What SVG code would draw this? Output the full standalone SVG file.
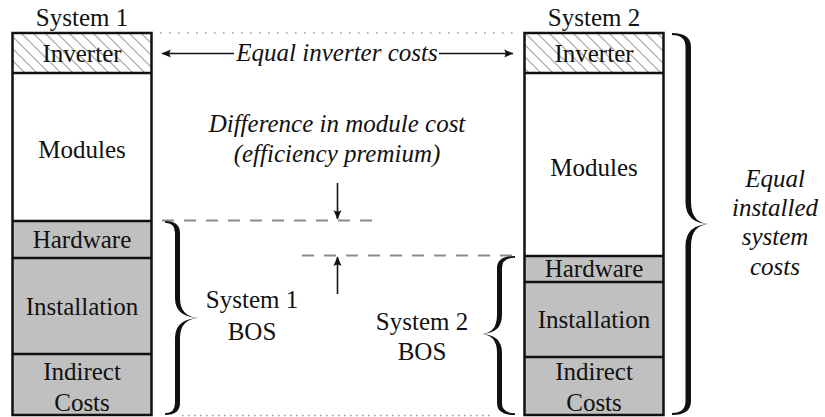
<svg xmlns="http://www.w3.org/2000/svg" width="825" height="417" viewBox="0 0 825 417">
<style>
.t{font-size:25px;text-anchor:middle;fill:#111}
.i{font-style:italic}
.box{stroke:#111;stroke-width:2.5;fill:none}
.div{stroke:#111;stroke-width:2.5}
.gray{fill:#c0c0c0}
.dash{stroke:#8c8c8c;stroke-width:2;stroke-dasharray:12 10;fill:none}
.arr{stroke:#111;stroke-width:1.6;fill:none;marker-end:url(#ah)}
.brace{fill:#111}
</style>
<defs>
<pattern id="hatch" patternUnits="userSpaceOnUse" width="12" height="12">
<path d="M-3,-3 L15,15 M-3,9 L3,15 M9,-3 L15,3" stroke="#b0b0b0" stroke-width="1.3"/>
</pattern>
<marker id="ah" viewBox="-10 -5 11 10" refX="0" refY="0" markerWidth="11" markerHeight="10" markerUnits="userSpaceOnUse" orient="auto">
<path d="M0.5,0 L-9,-4 Q-6,0 -9,4 Z" fill="#111"/>
</marker>
</defs>
<rect width="825" height="417" fill="#fff"/>

<g font-family="'Liberation Serif', 'Times New Roman', serif">
<g id="connectors">
<line x1="160" y1="33" x2="516" y2="33" stroke="#999" stroke-width="1.5" stroke-dasharray="1.5 7.5"/>
<line x1="182" y1="415.5" x2="492" y2="415.5" stroke="#999" stroke-width="1.5" stroke-dasharray="1.5 4.5"/>
<line class="arr" x1="234" y1="53.5" x2="162" y2="53.5"/>
<line class="arr" x1="439" y1="53.5" x2="513" y2="53.5"/>
<line class="dash" x1="162" y1="220.5" x2="372" y2="220.5"/>
<line class="dash" x1="302" y1="255.5" x2="514" y2="255.5"/>
<line class="arr" x1="337.5" y1="183" x2="337.5" y2="219"/>
<line class="arr" x1="337.5" y1="294" x2="337.5" y2="257"/>
</g>

<g id="system1">
<text class="t" x="82" y="26">System 1</text>
<g id="s1-inverter"><rect x="12.5" y="33" width="139" height="40" fill="url(#hatch)"/><text class="t" x="82" y="62">Inverter</text></g>
<g id="s1-modules"><text class="t" x="82" y="158">Modules</text></g>
<g id="s1-hardware"><rect class="gray" x="12.5" y="221" width="139" height="37"/><text class="t" x="82" y="248">Hardware</text></g>
<g id="s1-installation"><rect class="gray" x="12.5" y="258" width="139" height="96"/><text class="t" x="82" y="315">Installation</text></g>
<g id="s1-indirect"><rect class="gray" x="12.5" y="354" width="139" height="61"/><text class="t" x="82" y="380">Indirect</text><text class="t" x="82" y="411">Costs</text></g>
<rect class="box" x="12.5" y="33" width="139" height="382"/>
<line class="div" x1="12.5" y1="73" x2="151.5" y2="73"/>
<line class="div" x1="12.5" y1="221" x2="151.5" y2="221"/>
<line class="div" x1="12.5" y1="258" x2="151.5" y2="258"/>
<line class="div" x1="12.5" y1="354" x2="151.5" y2="354"/>
</g>

<g id="system2">
<text class="t" x="594" y="26">System 2</text>
<g id="s2-inverter"><rect x="524.5" y="33" width="139" height="40" fill="url(#hatch)"/><text class="t" x="594" y="62">Inverter</text></g>
<g id="s2-modules"><text class="t" x="594" y="176">Modules</text></g>
<g id="s2-hardware"><rect class="gray" x="524.5" y="256" width="139" height="26"/><text class="t" x="594" y="277">Hardware</text></g>
<g id="s2-installation"><rect class="gray" x="524.5" y="282" width="139" height="75"/><text class="t" x="594" y="328">Installation</text></g>
<g id="s2-indirect"><rect class="gray" x="524.5" y="357" width="139" height="58"/><text class="t" x="594" y="380">Indirect</text><text class="t" x="594" y="411">Costs</text></g>
<rect class="box" x="524.5" y="33" width="139" height="382"/>
<line class="div" x1="524.5" y1="73" x2="663.5" y2="73"/>
<line class="div" x1="524.5" y1="256" x2="663.5" y2="256"/>
<line class="div" x1="524.5" y1="282" x2="663.5" y2="282"/>
<line class="div" x1="524.5" y1="357" x2="663.5" y2="357"/>
</g>

<g id="equal-inverter"><text class="t i" x="337" y="61">Equal inverter costs</text></g>
<g id="difference"><text class="t i" x="337" y="132">Difference in module cost</text><text class="t i" x="337" y="162">(efficiency premium)</text></g>

<g id="bos1">
<path class="brace" d="M165,221 Q180,221 180,233 L180,298 Q180,318 201,318 Q180,318 180,338 L180,403 Q180,415 165,415 L165,413.2 Q175,413.2 175,403 L175,338 Q175,318 201,318 Q175,318 175,298 L175,233 Q175,222.8 165,222.8 Z"/>
<text class="t" x="252" y="308">System 1</text><text class="t" x="252" y="340">BOS</text>
</g>

<g id="bos2">
<path class="brace" d="M515,256 Q497,256 497,268 L497,315 Q497,334 480,334 Q497,334 497,353 L497,403 Q497,415 515,415 L515,413.2 Q502,413.2 502,403 L502,353 Q502,334 480,334 Q502,334 502,315 L502,268 Q502,257.8 515,257.8 Z"/>
<text class="t" x="422" y="330">System 2</text><text class="t" x="422" y="360">BOS</text>
</g>

<g id="total">
<path class="brace" d="M672,33 Q691,33 691,47 L691,202 Q691,224 711,224 Q691,224 691,246 L691,401 Q691,415 672,415 L672,413 Q685.5,413 685.5,401 L685.5,246 Q685.5,224 711,224 Q685.5,224 685.5,202 L685.5,47 Q685.5,35 672,35 Z"/>
<text class="t i" x="775" y="187">Equal</text><text class="t i" x="775" y="216">installed</text><text class="t i" x="775" y="245">system</text><text class="t i" x="775" y="275">costs</text>
</g>
</g>
</svg>
